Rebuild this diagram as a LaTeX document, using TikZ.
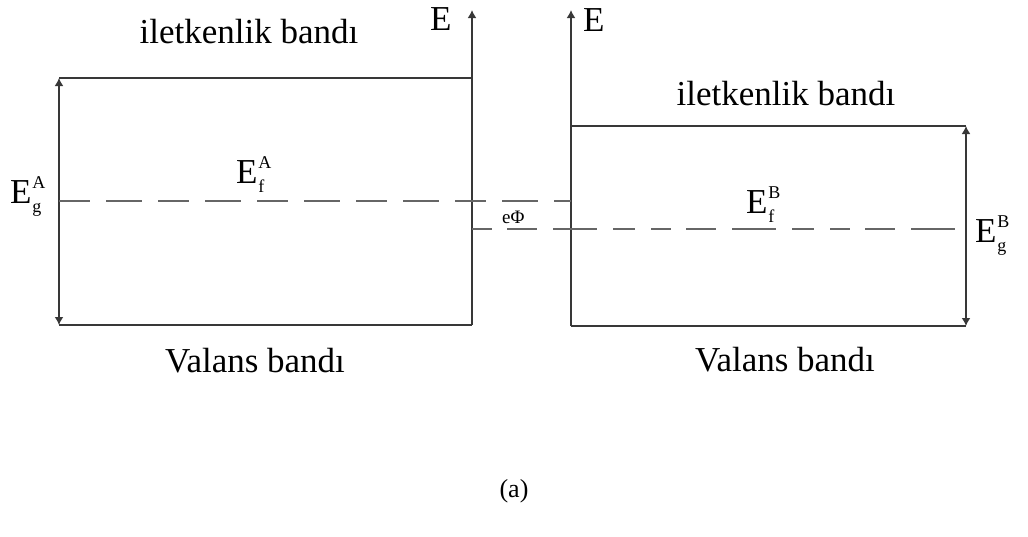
\documentclass[tikz,border=0pt]{standalone}
\usepackage{fontspec}
\setmainfont{Liberation Serif}
\usetikzlibrary{arrows.meta}
\newcommand{\bigtxt}{\fontsize{35}{40}\selectfont}
\newcommand{\scrtxt}{\fontsize{18}{20}\selectfont}
\newcommand{\Ess}[2]{E\kern0.02em\rlap{\raisebox{0.42em}{\scrtxt #2}}\raisebox{-0.26em}{\scrtxt #1}\phantom{\scrtxt #2}}
\begin{document}
\begin{tikzpicture}[x=1pt,y=-1pt,
  band/.style={draw=black!78,line width=1.8pt},
  fermi/.style={draw=black!60,line width=2.2pt},
  tip/.style={-{Latex[length=8pt,width=9pt]}},
  dtip/.style={{Latex[length=8pt,width=9pt]}-{Latex[length=8pt,width=9pt]}},
  lbl/.style={inner sep=0pt,font=\bigtxt,text=black}]
\useasboundingbox (0,0) rectangle (1028,536);
% left material A
\coordinate (ATL) at (59,78);
\coordinate (ABL) at (59,325);
\coordinate (ATR) at (472,78);
\coordinate (ABR) at (472,325);
\coordinate (Atop) at (472,10);
% right material B
\coordinate (BTL) at (571,126);
\coordinate (BBL) at (571,326);
\coordinate (BTR) at (966,126);
\coordinate (BBR) at (966,326);
\coordinate (Btop) at (571,10);
% Fermi levels
\coordinate (FAs) at (59,201);
\coordinate (FAe) at (571,201);
\coordinate (FBs) at (472,229);
\coordinate (FBe) at (966,229);

\draw[band] (ATL) -- (ATR);
\draw[band] (ABL) -- (ABR);
\draw[band,tip] (ABR) -- (Atop);
\draw[band,dtip] (ATL) -- (ABL);

\draw[band] (BTL) -- (BTR);
\draw[band] (BBL) -- (BBR);
\draw[band,tip] (BBL) -- (Btop);
\draw[band,dtip] (BTR) -- (BBR);

\draw[fermi,dash pattern=on 31pt off 16pt on 36pt off 16pt] (FAs) -- (FAe);
\draw[fermi,dash pattern=on 20pt off 15pt on 30pt off 16pt on 44pt off 16pt on 22pt off 16pt] (FBs) -- (FBe);

% labels
\node[lbl,anchor=base] (condA) at (249,43) {iletkenlik bandı};
\node[lbl,anchor=base] (condB) at (786,105) {iletkenlik bandı};
\node[lbl,anchor=base] (valA) at (255,372) {Valans bandı};
\node[lbl,anchor=base] (valB) at (785,371) {Valans bandı};
\node[lbl,anchor=base west] (EA) at (430,30) {E};
\node[lbl,anchor=base west] (EB) at (583,31) {E};
\node[lbl,anchor=base west] (EgA) at (10,203) {\Ess{g}{A}};
\node[lbl,anchor=base west] (EfA) at (236,183) {\Ess{f}{A}};
\node[lbl,anchor=base west] (EfB) at (746,213) {\Ess{f}{B}};
\node[lbl,anchor=base west] (EgB) at (975,242) {\Ess{g}{B}};
\node[lbl,anchor=base west,font=\fontsize{19}{22}\selectfont] (ephi) at (502,223) {eΦ};
\node[lbl,font=\fontsize{26}{30}\selectfont] (cap) at (514,491) {(a)};
\end{tikzpicture}
\end{document}
